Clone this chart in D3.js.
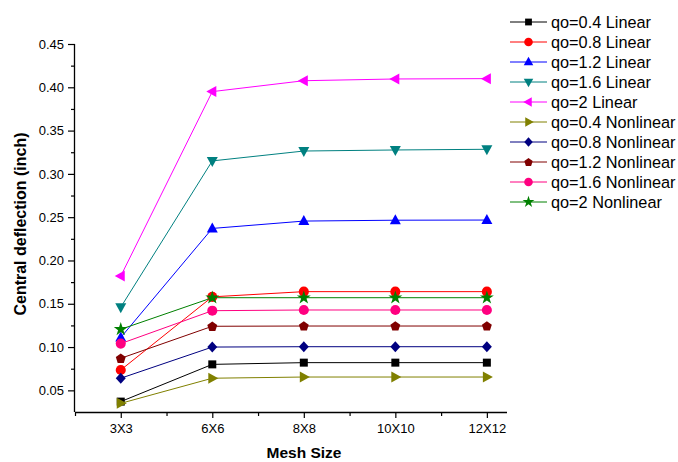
<!DOCTYPE html>
<html><head><meta charset="utf-8">
<script src="https://cdn.jsdelivr.net/npm/d3@7"></script>
<style>body{margin:0;background:#fff}svg{display:block;font-family:Arial,"Liberation Sans",sans-serif}</style>
</head><body><svg id="c" width="678" height="462"></svg>
<script>
const categories = ["3X3","6X6","8X8","10X10","12X12"];
const seriesNames = ["qo=0.4 Linear","qo=0.8 Linear","qo=1.2 Linear","qo=1.6 Linear","qo=2 Linear",
  "qo=0.4 Nonlinear","qo=0.8 Nonlinear","qo=1.2 Nonlinear","qo=1.6 Nonlinear","qo=2 Nonlinear"];
const q04Linear = [0.037, 0.080, 0.082, 0.082, 0.082];
const q08Linear = [0.0735, 0.158, 0.164, 0.164, 0.164];
const q12Linear = [0.111, 0.237, 0.2455, 0.2465, 0.2467];
const q16Linear = [0.146, 0.315, 0.3264, 0.3276, 0.3284];
const q2Linear = [0.182, 0.395, 0.4076, 0.4096, 0.410];
const q04Nonlinear = [0.035, 0.064, 0.0654, 0.0654, 0.0654];
const q08Nonlinear = [0.064, 0.100, 0.1004, 0.1004, 0.1004];
const q12Nonlinear = [0.087, 0.124, 0.1243, 0.1243, 0.1243];
const q16Nonlinear = [0.104, 0.142, 0.1428, 0.1428, 0.1428];
const q2Nonlinear = [0.1205, 0.157, 0.157, 0.157, 0.157];
const seriesValues = [q04Linear,q08Linear,q12Linear,q16Linear,q2Linear,q04Nonlinear,q08Nonlinear,q12Nonlinear,q16Nonlinear,q2Nonlinear];
const colors = ["#000000","#ff0000","#0000ff","#008080","#ff00ff","#808000","#000080","#800000","#ff0080","#008000"];
const shapes = ["square","circle","up","down","left","right","diamond","pentagon","circle","star"];
const yTicks = [0.05,0.10,0.15,0.20,0.25,0.30,0.35,0.40,0.45];

const svg = d3.select("#c");
const x = d3.scaleLinear().domain([-0.5, 4.22]).range([75, 507]);
const y = d3.scaleLinear().domain([0.025, 0.45]).range([412, 44]);
const FONT = "Arial,'Liberation Sans',sans-serif";

// axes
const gx = svg.append("g").attr("transform","translate(0,412)");
gx.call(d3.axisBottom(x).tickValues(d3.range(0,5)).tickFormat(i=>categories[i]).tickSize(6).tickPadding(6))
  .call(g=>g.select(".domain").attr("d","M75,0.5H507").attr("stroke","#000").attr("stroke-width",1.3));
gx.selectAll("text").attr("font-size",13).attr("fill","#000").attr("font-family",FONT);
gx.append("g").call(d3.axisBottom(x).tickValues([-0.5,0.5,1.5,2.5,3.5]).tickSize(4).tickFormat(""))
  .call(g=>g.select(".domain").remove());
gx.selectAll("line").attr("stroke","#000").attr("stroke-width",1.2);

const gy = svg.append("g").attr("transform","translate(75,0)");
gy.call(d3.axisLeft(y).tickValues(yTicks).tickFormat(d3.format(".2f")).tickSize(7).tickPadding(4))
  .call(g=>g.select(".domain").attr("d","M-0.5,44V412").attr("stroke","#000").attr("stroke-width",1.3));
gy.selectAll("text").attr("font-size",13).attr("fill","#000").attr("font-family",FONT);
gy.append("g").call(d3.axisLeft(y).tickValues([0.075,0.125,0.175,0.225,0.275,0.325,0.375,0.425]).tickSize(4).tickFormat(""))
  .call(g=>g.select(".domain").remove());
gy.selectAll("line").attr("stroke","#000").attr("stroke-width",1.2);

svg.append("text").attr("x",304).attr("y",458).attr("text-anchor","middle")
  .attr("font-size",15.5).attr("font-weight","bold").text("Mesh Size");
svg.append("text").attr("transform","translate(26,224) rotate(-90)").attr("text-anchor","middle")
  .attr("font-size",16).attr("font-weight","bold").text("Central deflection (inch)");

function markerPath(shape, sc){
  sc = sc || 1;
  const s = 5*sc;
  switch(shape){
    case "square": return d3.symbol(d3.symbolSquare, 64*sc*sc)();
    case "circle": return d3.symbol(d3.symbolCircle, 80*sc*sc)();
    case "diamond": return `M0,${-s-0.5}L${s},0L0,${s+0.5}L${-s},0Z`;
    case "up": return `M0,${-s-1}L${s+0.5},${s-1}L${-s-0.5},${s-1}Z`;
    case "down": return `M0,${s+1}L${s+0.5},${-s+1}L${-s-0.5},${-s+1}Z`;
    case "left": return `M${-s-1},0L${s-1},${s+0.5}L${s-1},${-s-0.5}Z`;
    case "right": return `M${s+1},0L${-s+1},${s+0.5}L${-s+1},${-s-0.5}Z`;
    case "pentagon": {
      const pts = d3.range(5).map(k=>{const a=-Math.PI/2+k*2*Math.PI/5;return [5.2*sc*Math.cos(a),5.2*sc*Math.sin(a)+0.4];});
      return "M"+pts.map(p=>p.join(",")).join("L")+"Z";
    }
    case "star": return d3.symbol(d3.symbolStar, 60*sc*sc)();
  }
}

const line = d3.line().x((d,i)=>x(i)).y(d=>y(d));
const plot = svg.append("g");
seriesValues.forEach((vals,k)=>{
  const g = plot.append("g");
  g.append("path").attr("d",line(vals)).attr("fill","none").attr("stroke",colors[k]).attr("stroke-width",1);
  g.selectAll("path.m").data(vals).join("path").attr("class","m")
    .attr("transform",(d,i)=>`translate(${x(i)},${y(d)})`)
    .attr("d",markerPath(shapes[k])).attr("fill",colors[k]);
});

// legend
const lg = svg.append("g");
seriesNames.forEach((name,k)=>{
  const yy = 22 + k*20;
  lg.append("line").attr("x1",510).attr("x2",547).attr("y1",yy).attr("y2",yy).attr("stroke",colors[k]).attr("stroke-width",1);
  lg.append("path").attr("transform",`translate(528.5,${yy})`).attr("d",markerPath(shapes[k],0.85)).attr("fill",colors[k]);
  lg.append("text").attr("x",551).attr("y",yy+5.5).attr("font-size",16.3).attr("fill","#000").text(name);
});
</script></body></html>
